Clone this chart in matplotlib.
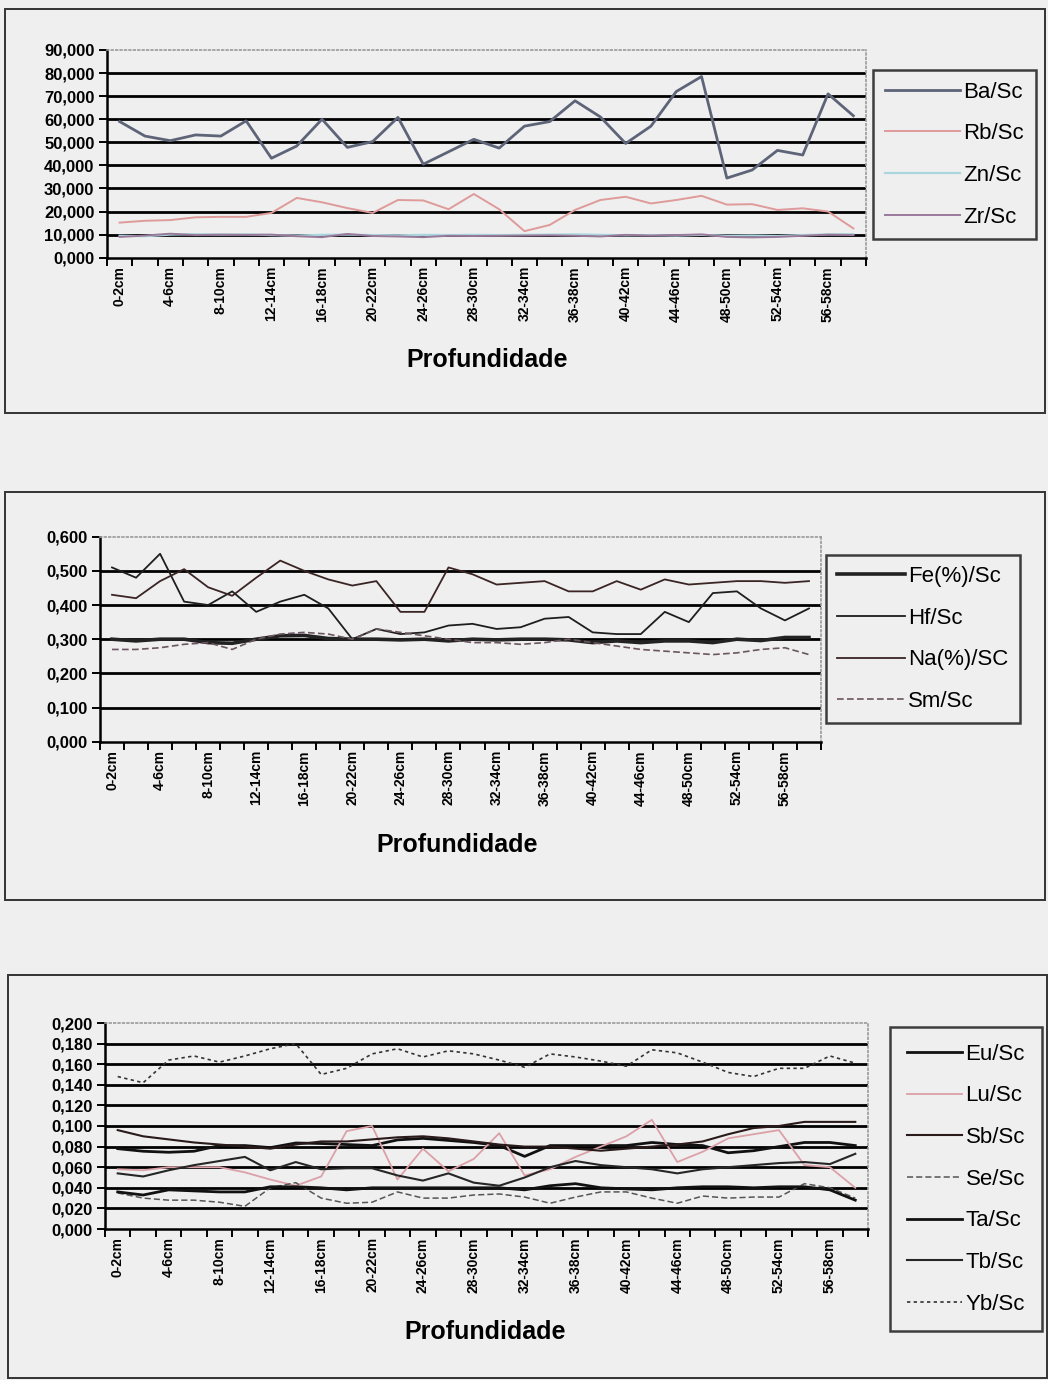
import matplotlib
matplotlib.use("Agg")
import matplotlib.pyplot as plt
from matplotlib.patches import Rectangle

plt.rcParams['font.family'] = ['Liberation Sans', 'DejaVu Sans']

W, H = 1048, 1380
BG = '#efefef'

# profundidade das amostras (30 intervalos de 2 cm)
depths = ['%d-%dcm' % (2 * i, 2 * i + 2) for i in range(30)]

# razoes / Sc - grafico 1
ba_sc = [59.0, 52.7, 50.7, 53.2, 52.7, 59.3, 43.1, 48.4, 60.0, 47.8, 50.3, 60.8, 40.5, 45.9, 51.3,
         47.5, 57.0, 59.0, 68.0, 61.0, 49.5, 57.0, 72.0, 78.5, 34.5, 38.0, 46.5, 44.5, 71.0, 61.5]
rb_sc = [15.2, 16.0, 16.3, 17.5, 17.7, 17.7, 19.4, 25.9, 24.0, 21.5, 19.4, 25.0, 24.8, 21.0, 27.6,
         21.0, 11.5, 14.2, 20.7, 25.0, 26.4, 23.5, 25.0, 26.8, 23.0, 23.2, 20.7, 21.4, 20.0, 12.7]
zn_sc = [9.5, 9.3, 10.0, 10.2, 10.0, 10.1, 9.8, 9.6, 9.9, 10.0, 9.8, 9.7, 9.9, 9.8, 9.9,
         9.8, 9.9, 10.0, 10.1, 9.9, 9.7, 9.8, 9.6, 9.9, 9.5, 9.6, 9.4, 9.8, 10.1, 10.2]
zr_sc = [9.0, 9.6, 10.4, 9.8, 10.0, 9.9, 10.0, 9.3, 8.9, 10.3, 9.4, 9.2, 8.9, 9.5, 9.4,
         9.5, 9.6, 9.7, 9.5, 9.2, 9.9, 9.6, 9.8, 10.1, 9.0, 8.8, 9.0, 9.5, 10.0, 9.8]

# grafico 2
fe_sc = [0.300, 0.295, 0.300, 0.300, 0.290, 0.288, 0.300, 0.310, 0.311, 0.302, 0.300, 0.300, 0.298, 0.300, 0.295,
         0.300, 0.298, 0.300, 0.300, 0.298, 0.290, 0.295, 0.290, 0.295, 0.295, 0.290, 0.300, 0.296, 0.305, 0.305]
hf_sc = [0.510, 0.480, 0.550, 0.410, 0.400, 0.440, 0.380, 0.410, 0.430, 0.390, 0.300, 0.330, 0.315, 0.320, 0.340,
         0.345, 0.330, 0.335, 0.360, 0.365, 0.320, 0.315, 0.315, 0.380, 0.350, 0.435, 0.440, 0.390, 0.355, 0.390]
na_sc = [0.430, 0.420, 0.470, 0.505, 0.452, 0.427, 0.480, 0.530, 0.500, 0.475, 0.457, 0.470, 0.380, 0.380, 0.510,
         0.490, 0.460, 0.465, 0.470, 0.440, 0.440, 0.470, 0.445, 0.475, 0.460, 0.465, 0.470, 0.470, 0.465, 0.470]
sm_sc = [0.270, 0.270, 0.275, 0.285, 0.290, 0.270, 0.300, 0.315, 0.320, 0.315, 0.300, 0.330, 0.320, 0.310, 0.300,
         0.290, 0.290, 0.285, 0.290, 0.300, 0.290, 0.280, 0.270, 0.265, 0.260, 0.255, 0.260, 0.270, 0.275, 0.255]

# grafico 3
eu_sc = [0.078, 0.0755, 0.0745, 0.0755, 0.081, 0.081, 0.079, 0.0835, 0.083, 0.082, 0.081, 0.0865, 0.088, 0.086, 0.084,
         0.081, 0.0705, 0.081, 0.081, 0.081, 0.081, 0.084, 0.082, 0.081, 0.074, 0.076, 0.080, 0.084, 0.084, 0.081]
lu_sc = [0.058, 0.057, 0.060, 0.060, 0.060, 0.055, 0.048, 0.042, 0.051, 0.095, 0.100, 0.048, 0.078, 0.056, 0.068,
         0.093, 0.052, 0.058, 0.070, 0.080, 0.090, 0.106, 0.065, 0.075, 0.088, 0.092, 0.096, 0.062, 0.060, 0.040]
sb_sc = [0.096, 0.090, 0.087, 0.084, 0.082, 0.080, 0.078, 0.082, 0.085, 0.085, 0.087, 0.089, 0.090, 0.088, 0.085,
         0.082, 0.080, 0.080, 0.078, 0.076, 0.078, 0.080, 0.082, 0.085, 0.092, 0.098, 0.100, 0.104, 0.104, 0.104]
se_sc = [0.035, 0.030, 0.028, 0.028, 0.026, 0.022, 0.040, 0.045, 0.030, 0.025, 0.026, 0.036, 0.030, 0.030, 0.033,
         0.034, 0.031, 0.025, 0.031, 0.036, 0.036, 0.030, 0.025, 0.032, 0.030, 0.031, 0.031, 0.044, 0.040, 0.030]
ta_sc = [0.036, 0.033, 0.038, 0.037, 0.036, 0.036, 0.041, 0.041, 0.040, 0.038, 0.040, 0.040, 0.040, 0.040, 0.040,
         0.040, 0.038, 0.042, 0.044, 0.040, 0.039, 0.038, 0.040, 0.041, 0.041, 0.040, 0.041, 0.041, 0.038, 0.028]
tb_sc = [0.054, 0.051, 0.057, 0.062, 0.066, 0.070, 0.057, 0.065, 0.058, 0.059, 0.059, 0.052, 0.047, 0.054, 0.045,
         0.042, 0.050, 0.060, 0.066, 0.062, 0.060, 0.058, 0.054, 0.058, 0.060, 0.062, 0.064, 0.065, 0.063, 0.073]
yb_sc = [0.148, 0.142, 0.164, 0.168, 0.162, 0.168, 0.175, 0.180, 0.150, 0.156, 0.170, 0.175, 0.167, 0.173, 0.170,
         0.164, 0.157, 0.170, 0.167, 0.163, 0.158, 0.174, 0.171, 0.162, 0.152, 0.148, 0.156, 0.156, 0.168, 0.161]

fig = plt.figure(figsize=(W / 100, H / 100), dpi=100, facecolor=BG)


def frame(x0, y0, x1, y1):
    fig.add_artist(Rectangle((x0 / W, 1 - y1 / H), (x1 - x0) / W, (y1 - y0) / H,
                             transform=fig.transFigure, fill=False, ec='#333333', lw=1.4))


def panel(box, ymax, ystep, series, leg_xy, hlen, bpad, label_xy):
    x0, y0, x1, y1 = box
    ax = fig.add_axes([x0 / W, 1 - y1 / H, (x1 - x0) / W, (y1 - y0) / H])
    ax.set_facecolor(BG)
    n = len(depths)
    ticks = [k * ystep for k in range(int(round(ymax / ystep)) + 1)]
    for v in ticks[1:-1]:
        ax.axhline(v, color='black', lw=2.0, zorder=1)
    x = list(range(n))
    for name, vals, kw in series:
        ax.plot(x, vals, label=name, zorder=3, **kw)
    ax.set_xlim(-0.5, n - 0.5)
    ax.set_ylim(0, ymax)
    ax.set_yticks(ticks)
    ax.set_yticklabels([('%.3f' % v).replace('.', ',') for v in ticks],
                       fontsize=12, fontweight='bold')
    ax.set_xticks(x[::2])
    ax.set_xticklabels(depths[::2], rotation=90, fontsize=10, fontweight='bold')
    ax.set_xticks([k - 0.5 for k in range(n + 1)], minor=True)
    ax.tick_params(axis='x', which='major', length=0, pad=6)
    ax.tick_params(axis='x', which='minor', length=6, width=1.4, direction='out')
    ax.tick_params(axis='y', length=6, width=1.4, direction='out', pad=3)
    for s in ('left', 'bottom'):
        ax.spines[s].set_linewidth(1.8)
    for s in ('top', 'right'):
        ax.spines[s].set_linestyle(':')
        ax.spines[s].set_color('#9a9a9a')
        ax.spines[s].set_linewidth(1.2)
    leg = ax.legend(loc='upper left', bbox_to_anchor=(leg_xy[0] / W, 1 - leg_xy[1] / H),
                    bbox_transform=fig.transFigure, fontsize=16, frameon=True,
                    fancybox=False, facecolor=BG, edgecolor='#111111',
                    handlelength=hlen, handletextpad=0.15, labelspacing=0.93,
                    borderpad=bpad, borderaxespad=0)
    leg.get_frame().set_linewidth(1.8)
    fig.text(label_xy[0] / W, 1 - label_xy[1] / H, 'Profundidade', ha='center', va='center',
             fontsize=18, fontweight='bold')
    return ax


frame(5, 9, 1045, 413)
frame(5, 492, 1045, 900)
frame(8, 975, 1047, 1378)

panel((107, 50, 866, 257.7), 90, 10, [
    ('Ba/Sc', ba_sc, dict(color='#5e6478', lw=2.0)),
    ('Rb/Sc', rb_sc, dict(color='#df9a9a', lw=1.4)),
    ('Zn/Sc', zn_sc, dict(color='#a9d6de', lw=1.6)),
    ('Zr/Sc', zr_sc, dict(color='#9a789a', lw=1.4)),
], (873, 70), 3.4, 0.52, (487, 360))

panel((100, 536.7, 821, 741.7), 0.6, 0.1, [
    ('Fe(%)/Sc', fe_sc, dict(color='#222222', lw=2.6)),
    ('Hf/Sc', hf_sc, dict(color='#1e1e1e', lw=1.3)),
    ('Na(%)/SC', na_sc, dict(color='#3a2424', lw=1.3)),
    ('Sm/Sc', sm_sc, dict(color='#6a5560', lw=1.2, ls=(0, (4, 2)))),
], (826, 555), 3.05, 0.5, (457, 845))

panel((105, 1023, 868, 1229), 0.2, 0.02, [
    ('Eu/Sc', eu_sc, dict(color='#111111', lw=2.0)),
    ('Lu/Sc', lu_sc, dict(color='#dba0a8', lw=1.3)),
    ('Sb/Sc', sb_sc, dict(color='#2a1a1a', lw=1.5)),
    ('Se/Sc', se_sc, dict(color='#555555', lw=1.1, ls=(0, (4, 2)))),
    ('Ta/Sc', ta_sc, dict(color='#111111', lw=2.0)),
    ('Tb/Sc', tb_sc, dict(color='#262626', lw=1.5)),
    ('Yb/Sc', yb_sc, dict(color='#333333', lw=1.2, ls=(0, (2, 2)))),
], (890, 1027), 2.5, 0.75, (485, 1332))

fig.savefig('out.png', dpi=100, facecolor=BG)
